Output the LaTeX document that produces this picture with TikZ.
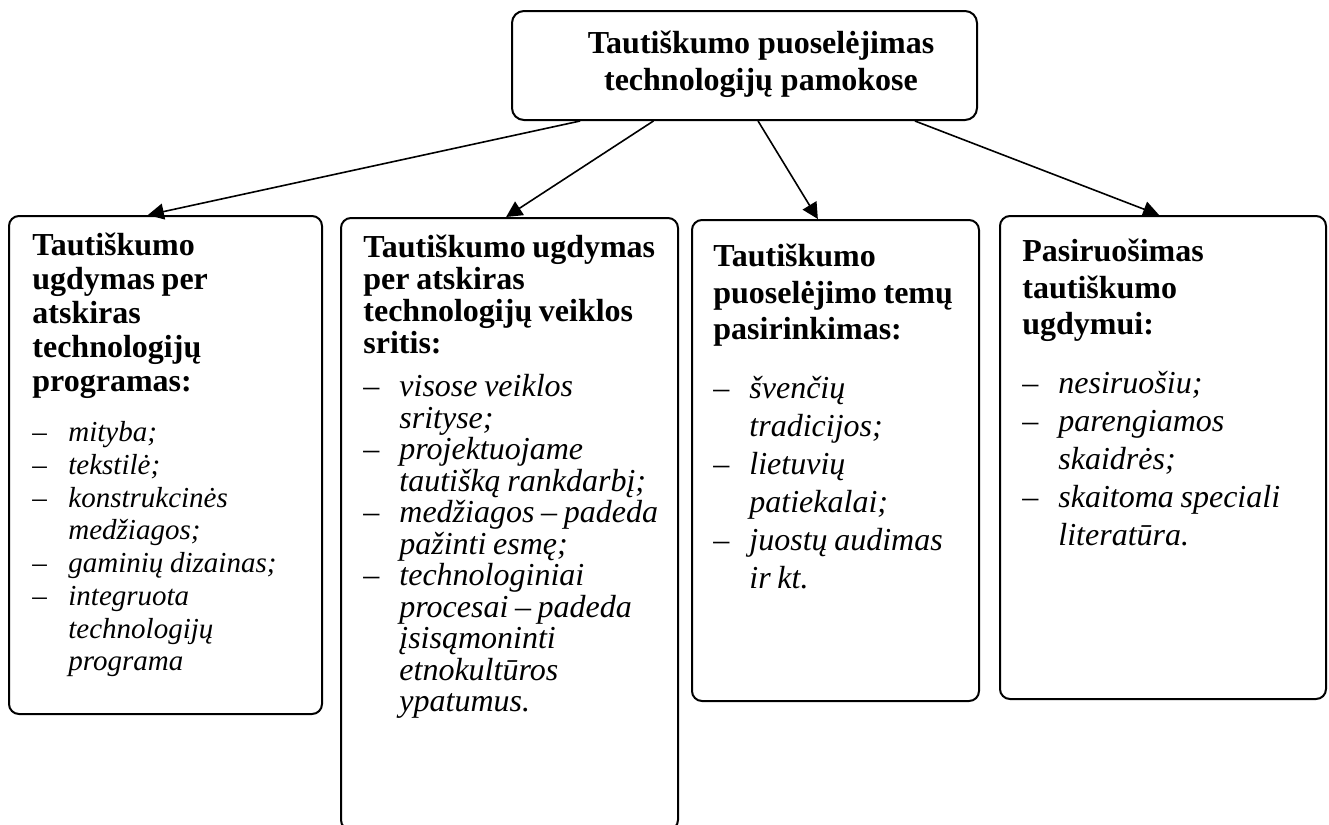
\documentclass[tikz,border=0pt]{standalone}
\usepackage{fontspec}
\setmainfont{Liberation Serif}
\usetikzlibrary{calc,positioning,arrows.meta}
\newcommand{\headfont}[1]{\fontsize{16}{#1}\selectfont\bfseries}
\newcommand{\listfont}[2]{\fontsize{#1}{#2}\selectfont}
\newcommand{\litem}[1]{\par\hangindent=18pt\hangafter=1\makebox[18pt][l]{–}\textit{#1}}

\begin{document}
\begin{tikzpicture}[x=0.5pt,y=-0.5pt]
\tikzstyle{box} = [draw, line width=1pt, rounded corners=5pt, anchor=north west, inner sep=0pt];
\tikzstyle{txt} = [inner sep=0pt, align=left];
\tikzstyle{arr} = [line width=0.8pt, -{Triangle[length=8pt,width=8pt]}];
\useasboundingbox (0,0) rectangle (1329,825);
\node[box, rounded corners=6pt, minimum width=232.5pt, minimum height=54.5pt] (title) at (511,10) {};
\node[box, minimum width=156.5pt, minimum height=249pt] (progr) at (8,215) {};
\node[box, minimum width=168.5pt, minimum height=306pt] (sritys) at (340,217) {};
\node[box, minimum width=143.5pt, minimum height=240.5pt] (temos) at (691,219) {};
\node[box, minimum width=163pt, minimum height=241.5pt] (pasir) at (999,215) {};
\node[inner sep=0pt, align=center, font=\fontsize{16}{18.4}\selectfont\bfseries, anchor=north] (titletxt)
  at ([xshift=8.25pt,yshift=-10.5pt]title.north) {Tautiškumo puoselėjimas\\technologijų pamokose};
\node[txt, text width=156pt, below right=9pt and 12pt of progr.north west] (progrtxt)
  {{\headfont{17pt}Tautiškumo\newline ugdymas per\newline atskiras\newline technologijų\newline programas:\par}%
   \vspace{8.6pt}\listfont{14.5pt}{16.35pt}%
   \litem{mityba;}\litem{tekstilė;}\litem{konstrukcinės\newline medžiagos;}\litem{gaminių dizainas;}%
   \litem{integruota\newline technologijų\newline programa}\par};
\node[txt, text width=168pt, below right=9pt and 11.5pt of sritys.north west] (sritystxt)
  {{\headfont{16pt}Tautiškumo ugdymas\newline per atskiras\newline technologijų veiklos\newline sritis:\par}%
   \vspace{5.75pt}\listfont{16pt}{15.75pt}%
   \litem{visose veiklos\newline srityse;}\litem{projektuojame\newline tautišką rankdarbį;}%
   \litem{medžiagos – padeda\newline pažinti esmę;}%
   \litem{technologiniai\newline procesai – padeda\newline įsisąmoninti\newline etnokultūros\newline ypatumus.}\par};
\node[txt, text width=143pt, below right=12.5pt and 11pt of temos.north west] (temostxt)
  {{\headfont{18.25pt}Tautiškumo\newline puoselėjimo temų\newline pasirinkimas:\par}%
   \vspace{10.5pt}\listfont{16pt}{19pt}%
   \litem{švenčių\newline tradicijos;}\litem{lietuvių\newline patiekalai;}\litem{juostų audimas\newline ir kt.}\par};
\node[txt, text width=163pt, below right=12pt and 11.5pt of pasir.north west] (pasirtxt)
  {{\headfont{18.25pt}Pasiruošimas\newline tautiškumo\newline ugdymui:\par}%
   \vspace{10.5pt}\listfont{16pt}{19pt}%
   \litem{nesiruošiu;}\litem{parengiamos\newline skaidrės;}\litem{skaitoma speciali\newline literatūra.}\par};
\coordinate (s1) at ($(title.south west)!0.148!(title.south east)$);
\coordinate (s2) at ($(title.south west)!0.305!(title.south east)$);
\coordinate (s3) at ($(title.south west)!0.529!(title.south east)$);
\coordinate (s4) at ($(title.south west)!0.865!(title.south east)$);
\coordinate (e1) at ($(progr.north west)!0.444!(progr.north east)$);
\coordinate (e2) at ($(sritys.north west)!0.49!(sritys.north east)$);
\coordinate (e3) at ($(temos.north west)!0.439!(temos.north east)$);
\coordinate (e4) at ($(pasir.north west)!0.488!(pasir.north east)$);
\draw[arr] (s1) -- (e1);
\draw[arr] (s2) -- (e2);
\draw[arr] (s3) -- (e3);
\draw[arr] (s4) -- (e4);
\end{tikzpicture}
\end{document}
